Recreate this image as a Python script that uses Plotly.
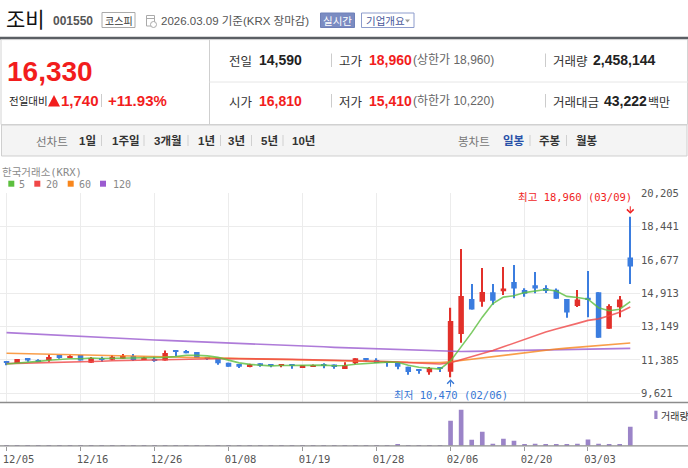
import plotly.graph_objects as go

W, H = 688, 468

# ---- data ----
dates = ["12/05", "12/08", "12/09", "12/10", "12/11", "12/12", "12/15", "12/16", "12/17", "12/18",
         "12/19", "12/22", "12/23", "12/24", "12/26", "12/29", "12/30", "01/02", "01/05", "01/06",
         "01/07", "01/08", "01/09", "01/12", "01/13", "01/14", "01/15", "01/16", "01/19", "01/20",
         "01/21", "01/22", "01/23", "01/26", "01/27", "01/28", "01/29", "01/30", "02/02", "02/03",
         "02/04", "02/05", "02/06", "02/09", "02/10", "02/11", "02/12", "02/13", "02/19", "02/20",
         "02/23", "02/24", "02/25", "02/26", "02/27", "03/03", "03/04", "03/05", "03/06", "03/09"]
opens = [11330, 11230, 11490, 11370, 11370, 11650, 11490, 11650, 11240, 11490,
         11400, 11450, 11600, 11380, 11440, 11350, 11840, 11860, 11810, 11530,
         11490, 11240, 11170, 11050, 11210, 11120, 11080, 11120, 11000, 11030,
         11140, 11140, 10910, 11210, 11490, 11380, 11270, 11230, 11030, 10850,
         10730, 10960, 10760, 12760, 14610, 14470, 14970, 15020, 15510, 15090,
         15340, 15190, 15100, 14610, 14240, 14680, 14970, 13040, 14170, 16810]
highs = [11330, 11440, 11490, 11420, 11660, 11650, 11630, 11650, 11540, 11560,
         11630, 11700, 11700, 11560, 11560, 11880, 11840, 11910, 11810, 11530,
         11490, 11240, 11170, 11190, 11210, 11120, 11120, 11120, 11100, 11140,
         11210, 11140, 11260, 11470, 11490, 11470, 11310, 11230, 11030, 10850,
         11010, 10960, 14150, 17260, 15410, 16250, 15410, 16300, 16410, 15180,
         16040, 15340, 15160, 14610, 15090, 16090, 14970, 14330, 14770, 18960]
lows = [11100, 11230, 11290, 11290, 11290, 11450, 11490, 11350, 11240, 11290,
        11370, 11450, 11330, 11380, 11290, 11350, 11600, 11740, 11490, 11380,
        11130, 11030, 10960, 11000, 11030, 11000, 11000, 10920, 11000, 11030,
        10940, 10920, 10910, 11160, 11290, 11230, 11030, 10890, 10600, 10660,
        10600, 10750, 10470, 12300, 14050, 14200, 14310, 14820, 14650, 14730,
        14910, 14930, 14630, 13620, 14190, 13640, 12560, 13040, 13640, 15410]
closes = [11230, 11440, 11350, 11290, 11540, 11490, 11560, 11350, 11490, 11380,
          11560, 11600, 11380, 11510, 11350, 11750, 11810, 11740, 11490, 11460,
          11210, 11030, 11030, 11140, 11080, 11080, 11120, 11080, 11100, 11120,
          11100, 11010, 11100, 11470, 11350, 11230, 11230, 11030, 10750, 10820,
          10960, 10920, 13450, 14770, 14050, 14980, 14520, 15160, 15160, 14890,
          15160, 15040, 14630, 13890, 14590, 14600, 12560, 14240, 14590, 16330]
volumes = [41000, 38000, 29000, 35000, 52000, 33000, 27000, 45000, 31000, 26000,
           37000, 30000, 28000, 22000, 34000, 61000, 48000, 40000, 36000, 29000,
           44000, 39000, 27000, 25000, 30000, 21000, 24000, 26000, 23000, 28000,
           25000, 31000, 35000, 62000, 46000, 38000, 42000, 140000, 55000, 40000,
           50000, 35000, 3230000, 4650000, 780000, 1810000, 260000, 900000, 650000, 130000,
           260000, 140000, 130000, 140000, 260000, 820000, 270000, 140000, 150000, 2458144]
ma5 = [11170, 11210, 11260, 11310, 11370, 11420, 11450, 11450, 11490, 11460,
       11470, 11480, 11480, 11490, 11480, 11520, 11560, 11630, 11630, 11600,
       11520, 11360, 11230, 11150, 11100, 11070, 11090, 11100, 11090, 11100,
       11110, 11080, 11090, 11160, 11210, 11240, 11270, 11260, 11100, 11000,
       10950, 10900, 11330, 12050, 12830, 13650, 14370, 14710, 14780, 14950,
       15010, 15110, 15030, 14750, 14690, 14600, 14150, 13990, 14070, 14470]
ma20 = [11190, 11200, 11220, 11230, 11250, 11260, 11280, 11290, 11310, 11320,
        11340, 11350, 11370, 11390, 11400, 11420, 11440, 11450, 11460, 11460,
        11460, 11460, 11450, 11450, 11440, 11440, 11430, 11420, 11410, 11400,
        11390, 11370, 11360, 11340, 11330, 11310, 11300, 11270, 11240, 11210,
        11180, 11170, 11240, 11400, 11540, 11720, 11880, 12080, 12280, 12470,
        12670, 12860, 13020, 13150, 13320, 13480, 13560, 13720, 13910, 14190]
ma60 = [11740, 11730, 11710, 11700, 11690, 11680, 11660, 11650, 11640, 11620,
        11610, 11600, 11590, 11570, 11560, 11550, 11540, 11520, 11510, 11500,
        11490, 11470, 11460, 11450, 11440, 11420, 11410, 11400, 11390, 11380,
        11360, 11350, 11340, 11330, 11310, 11300, 11290, 11280, 11260, 11250,
        11240, 11250, 11290, 11360, 11430, 11490, 11560, 11620, 11690, 11770,
        11840, 11910, 11960, 12010, 12060, 12100, 12140, 12180, 12230, 12280]
ma120 = [12830, 12800, 12780, 12750, 12730, 12700, 12680, 12650, 12620, 12590,
         12560, 12530, 12500, 12470, 12440, 12420, 12400, 12370, 12350, 12330,
         12310, 12280, 12260, 12240, 12210, 12190, 12170, 12150, 12120, 12100,
         12080, 12050, 12030, 12010, 11980, 11960, 11940, 11920, 11900, 11880,
         11860, 11840, 11820, 11830, 11840, 11850, 11860, 11870, 11880, 11890,
         11900, 11910, 11920, 11940, 11950, 11960, 11970, 11980, 11990, 12000]
price_ticks = [9621, 11385, 13149, 14913, 16677, 18441, 20205]
date_ticks = ["12/05", "12/16", "12/26", "01/08", "01/19", "01/28", "02/06", "02/20", "03/03"]
upper_limit, lower_limit = 18960, 10220
trade_value = 43222  # 백만

RED, BLUE = "#e2302a", "#3b7ddf"
UP_TXT = "#f21d1d"
VOL_C = "#9b84c8"
KR = "Noto Sans CJK KR"
SANS = "Liberation Sans, Noto Sans CJK KR"
MONO = "DejaVu Sans Mono, Noto Sans CJK KR"


def px(x):
    return x / W


def py(y):
    return 1 - y / H


shapes, annotations = [], []


def text(x, y, s, size, color="#333", family=SANS, anchor="left", bold=False):
    if bold:
        s = f"<b>{s}</b>"
    annotations.append(dict(xref="paper", yref="paper", x=px(x), y=py(y), text=s,
                            showarrow=False, xanchor=anchor, yanchor="middle",
                            font=dict(family=family, size=size, color=color)))


def rect(x0, y0, x1, y1, fill="rgba(0,0,0,0)", line=None, width=1):
    shapes.append(dict(type="rect", xref="paper", yref="paper",
                       x0=px(x0), x1=px(x1), y0=py(y1), y1=py(y0), fillcolor=fill,
                       line=dict(color=line or "rgba(0,0,0,0)", width=width if line else 0)))


def hline(x0, x1, y, color, width=1):
    shapes.append(dict(type="line", xref="paper", yref="paper", x0=px(x0), x1=px(x1),
                       y0=py(y), y1=py(y), line=dict(color=color, width=width)))


def vline(x, y0, y1, color, width=1):
    shapes.append(dict(type="line", xref="paper", yref="paper", x0=px(x), x1=px(x),
                       y0=py(y0), y1=py(y1), line=dict(color=color, width=width)))


def tri(pts, color):
    d = "M " + " L ".join(f"{px(a)},{py(b)}" for a, b in pts) + " Z"
    shapes.append(dict(type="path", xref="paper", yref="paper", path=d,
                       fillcolor=color, line=dict(width=0)))


# ---- header ----
text(4, 18, "조비", 21, "#111", KR)
text(51, 21, "001550", 12, "#555", bold=True)
rect(102, 12.5, 135, 27.5, "white", "#aaa")
text(118.5, 20.5, "코스피", 10, "#333", KR, anchor="center")
rect(146.5, 15.5, 154.5, 26, "white", "#aaa")
hline(146.5, 154.5, 18.5, "#aaa")
shapes.append(dict(type="circle", xref="paper", yref="paper", x0=px(150.5), x1=px(156.5),
                   y0=py(27.5), y1=py(21.5), fillcolor="white", line=dict(color="#aaa", width=1)))
text(159, 21, "2026.03.09 기준(KRX 장마감)", 11.5, "#555")
rect(320.5, 13, 354.5, 27.5, "#7b8cc2", "#6f80b8")
text(337.5, 20.5, "실시간", 10.5, "white", KR, anchor="center")
rect(361.5, 13, 414, 27.5, "white", "#8d9ccc")
text(364, 20.5, "기업개요", 10.5, "#47579a", KR)
tri([(405, 19.5), (410, 19.5), (407.5, 22.5)], "#999")
rect(0, 36.8, 688, 39.6, "#5b5f64")

# ---- quote panel ----
prev = closes[-2]
diff = closes[-1] - prev
rect(1, 39.6, 687.5, 124.5, line="#d4d4d4")
vline(209.5, 39.6, 124.5, "#cfcfcf")
hline(209.5, 688, 82, "#e6e6e6")
text(5, 71.5, f"{closes[-1]:,}", 28, UP_TXT, bold=True)
text(7, 100.5, "전일대비", 10.5, "#222", KR)
tri([(48, 106.5), (54, 95), (60, 106.5)], UP_TXT)
text(59, 100.5, f"{diff:,}", 15, UP_TXT, bold=True)
vline(101.5, 94, 107, "#ccc")
text(106, 100.5, f"+{diff / prev * 100:.2f}%", 15, UP_TXT, bold=True)

rows = [
    (60.5, [("전일", f"{prev:,}", "#222", None), ("고가", f"{highs[-1]:,}", UP_TXT, f"(상한가 {upper_limit:,})"),
            ("거래량", f"{volumes[-1]:,}", "#222", None)]),
    (101, [("시가", f"{opens[-1]:,}", UP_TXT, None), ("저가", f"{lows[-1]:,}", UP_TXT, f"(하한가 {lower_limit:,})"),
           ("거래대금", f"{trade_value:,}", "#222", "백만")]),
]
for yy, cells in rows:
    for (lx, vx, sx), (lab, val, col, extra) in zip([(227, 257, None), (337, 367, 331.5), (550.5, None, 545.5)], cells):
        if sx:
            vline(sx, yy - 7, yy + 6.5, "#ccc")
        text(lx, yy, lab, 12.5, "#333", KR)
        if vx is None:
            vx = 591 if lab == "거래량" else 602
        text(vx, yy, val, 14, col, bold=True)
        if extra == "백만":
            text(646, yy, extra, 12, "#333", KR)
        elif extra:
            text(411, yy, extra, 12, "#666")

# ---- tab bar ----
rect(1.5, 125, 687, 156, "#f4f4f4", "#cfcfcf")
text(34, 140.5, "선차트", 11.5, "#777", KR)
for lab, x in [("1일", 77), ("1주일", 110), ("3개월", 152), ("1년", 195.5), ("3년", 226.5), ("5년", 258.5), ("10년", 290)]:
    text(x, 140.5, lab, 11.5, "#333", bold=True)
for x in [101.5, 144, 188, 220.5, 251.5, 283, 530, 566.5]:
    vline(x, 135, 146, "#d0d0d0")
text(456, 140.5, "봉차트", 11.5, "#777", KR)
text(501, 140.5, "일봉", 11.5, "#2750a8", bold=True)
text(537, 140.5, "주봉", 11.5, "#333", bold=True)
text(574, 140.5, "월봉", 11.5, "#333", bold=True)

# ---- chart captions ----
text(0, 172, "한국거래소(KRX)", 10.5, "#8a8a8a", MONO)
ma_colors = ["#5cbf3e", "#f04747", "#f8861c", "#9b5bd0"]
for (sx, lx, lab), c in zip([(8.3, 17, "5"), (34.3, 44, "20"), (67.7, 77, "60"), (100, 110.5, "120")], ma_colors):
    rect(sx, 180.7, sx + 6, 186.7, c)
    text(lx, 184.5, lab, 10, "#888", MONO)
hline(0, 688, 402.5, "#8c8c8c", 1.5)
hline(0, 688, 445.8, "#8c8c8c", 1.2)
rect(654.3, 410.7, 657.5, 419, VOL_C)
text(659, 415, "거래량", 10, "#333", KR)

# ---- traces ----
fig = go.Figure()
for ma, c in zip([ma120, ma60, ma20, ma5], ma_colors[::-1]):
    fig.add_trace(go.Scatter(x=dates, y=ma, mode="lines", line=dict(color=c, width=1.6),
                             opacity=0.8, hoverinfo="skip"))

colors = [RED if c >= o else BLUE for o, c in zip(opens, closes)]
fig.add_trace(go.Bar(x=dates, y=[h - l for h, l in zip(highs, lows)], base=lows, width=0.11,
                     marker=dict(color=colors, line=dict(width=0)), hoverinfo="skip"))
fig.add_trace(go.Bar(x=dates, y=[max(abs(c - o), 50) for o, c in zip(opens, closes)],
                     base=[min(o, c) for o, c in zip(opens, closes)], width=0.52,
                     marker=dict(color=colors, line=dict(width=0)), hoverinfo="skip"))
fig.add_trace(go.Bar(x=dates, y=volumes, width=0.44, xaxis="x2", yaxis="y2",
                     marker=dict(color=VOL_C, line=dict(width=0)), hoverinfo="skip"))

ih = highs.index(max(highs))
il = lows.index(min(lows))
annotations += [
    dict(x=dates[ih], y=highs[ih], xref="x", yref="y", text=f"최고 {highs[ih]:,} ({dates[ih]})",
         showarrow=False, xanchor="right", yanchor="middle", xshift=4, yshift=19.5,
         font=dict(family=MONO, size=10.5, color="#f01e1e")),
    dict(x=dates[ih], y=highs[ih], xref="x", yref="y", text="", showarrow=True, ax=0, ay=-12,
         arrowhead=4, arrowsize=1.3, arrowwidth=1, arrowcolor="#f01e1e", standoff=3),
    dict(x=dates[il], y=lows[il], xref="x", yref="y", text=f"최저 {lows[il]:,} ({dates[il]})",
         showarrow=False, xanchor="center", yanchor="middle", yshift=-17.5,
         font=dict(family=MONO, size=10.5, color="#3777d5")),
    dict(x=dates[il], y=lows[il], xref="x", yref="y", text="", showarrow=True, ax=0, ay=11,
         arrowhead=4, arrowsize=1.3, arrowwidth=1, arrowcolor="#3777d5", standoff=2),
]

xdom = [0, 640 / W]
fig.update_layout(
    width=W, height=H, margin=dict(l=0, r=0, t=0, b=0),
    paper_bgcolor="white", plot_bgcolor="white", template="none",
    showlegend=False, barmode="overlay", hovermode=False,
    shapes=shapes, annotations=annotations,
    xaxis=dict(type="category", categoryorder="array", categoryarray=dates, domain=xdom,
               range=[-0.62, 59.92], anchor="y", tickvals=date_ticks, showticklabels=False,
               showgrid=True, gridcolor="#ececec", gridwidth=1, zeroline=False, showline=False, ticks=""),
    yaxis=dict(domain=[py(401.5), py(193.1)], range=[9186, 20215], anchor="x", side="right",
               tickvals=price_ticks, tickformat=",d", showgrid=True, gridcolor="#ececec", gridwidth=1,
               zeroline=False, showline=False, ticks="",
               tickfont=dict(family=MONO, size=10.5, color="#555")),
    xaxis2=dict(type="category", matches="x", domain=xdom, anchor="y2", tickvals=date_ticks,
                ticktext=date_ticks, ticks="outside", ticklen=4, tickcolor="#999", tickwidth=1,
                showgrid=False, zeroline=False, showline=False, ticklabelshift=12,
                tickfont=dict(family=MONO, size=10.5, color="#555")),
    yaxis2=dict(domain=[py(445.8), py(404)], range=[0, 5.4e6], anchor="x2", visible=False),
)

fig.write_html("out.html", config={"displayModeBar": False},
               post_script="document.body.style.margin='0';")
